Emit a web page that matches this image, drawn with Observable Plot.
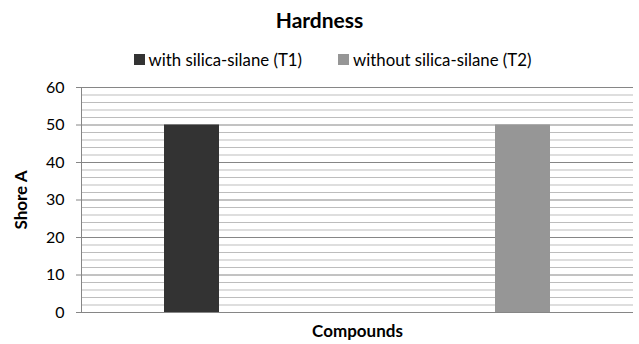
<!DOCTYPE html>
<html>
<head>
<meta charset="utf-8">
<script src="https://cdn.jsdelivr.net/npm/d3@7"></script>
<script src="https://cdn.jsdelivr.net/npm/@observablehq/plot@0.6"></script>
<style>
  html, body { margin: 0; padding: 0; background: #fff; }
  #chart { width: 639px; font-family: Lato, "Open Sans", sans-serif; color: #000; }
  .title { height: 40px; line-height: 40px; text-align: center; font-weight: bold; font-size: 21px; }
  .legend { height: 38px; display: flex; justify-content: center; align-items: center; gap: 36px; font-size: 16.8px; padding-left: 26px; box-sizing: border-box; }
  .legend span.item { display: flex; align-items: center; gap: 4px; }
  .legend i { display: inline-block; width: 11px; height: 11px; }
  svg { display: block; }
</style>
</head>
<body>
<div id="chart">
  <div class="title">Hardness</div>
  <div class="legend" id="legend"></div>
</div>
<script>
// Hardness (Shore A) of the two compounds
const compounds = ["T1", "T2"];
const seriesNames = ["with silica-silane (T1)", "without silica-silane (T2)"];
const withSilane = [50, null];
const withoutSilane = [null, 50];
const seriesColors = ["#333333", "#969696"];
const majorTicks = [0, 10, 20, 30, 40, 50, 60];
const minorTicks = [2, 4, 6, 8, 12, 14, 16, 18, 22, 24, 26, 28, 32, 34, 36, 38, 42, 44, 46, 48, 52, 54, 56, 58];
const yTitle = "Shore A";
const xTitle = "Compounds";

const seriesValues = [withSilane, withoutSilane];
const rows = [];
compounds.forEach((c, i) => {
  seriesNames.forEach((s, j) => {
    const v = seriesValues[j][i];
    if (v != null) rows.push({compound: c, series: s, value: v});
  });
});

// legend
const legend = document.getElementById("legend");
seriesNames.forEach((s, j) => {
  const item = document.createElement("span");
  item.className = "item";
  const sw = document.createElement("i");
  sw.style.background = seriesColors[j];
  item.appendChild(sw);
  item.appendChild(document.createTextNode(s));
  legend.appendChild(item);
});

const chart = Plot.plot({
  width: 639,
  height: 266,
  marginTop: 9,
  marginBottom: 32,
  marginLeft: 81,
  marginRight: 6,
  style: {fontFamily: "Lato, 'Open Sans', sans-serif", fontSize: "15px", color: "#000"},
  fx: {domain: compounds, padding: 0, axis: null},
  x: {domain: seriesNames, paddingInner: 0, paddingOuter: 1.47, align: 0.5, axis: null},
  y: {domain: [0, 60], axis: null},
  color: {domain: seriesNames, range: seriesColors},
  marks: [
    // gridlines repeat in each compound panel; the panels touch, so they read as continuous
    Plot.ruleY(minorTicks, {stroke: "#bdbdbd", strokeWidth: 1}),
    Plot.ruleY(majorTicks, {stroke: "#868686", strokeWidth: 1}),
    Plot.barY(rows, {fx: "compound", x: "series", y: "value", fill: "series"}),
    Plot.frame({anchor: "left", stroke: "#868686", facet: "super"}),
    Plot.axisY(majorTicks, {tickSize: 5, tickPadding: 12, stroke: "#868686", fill: "#000", label: null, fontSize: 16}),
    Plot.text([yTitle], {frameAnchor: "left", textAnchor: "middle", dx: -60, rotate: -90, fontWeight: "bold", fontSize: 17, facet: "super"}),
    Plot.text([xTitle], {frameAnchor: "bottom", dy: 24, fontWeight: "bold", fontSize: 17, facet: "super"})
  ]
});
document.getElementById("chart").appendChild(chart);
</script>
</body>
</html>
